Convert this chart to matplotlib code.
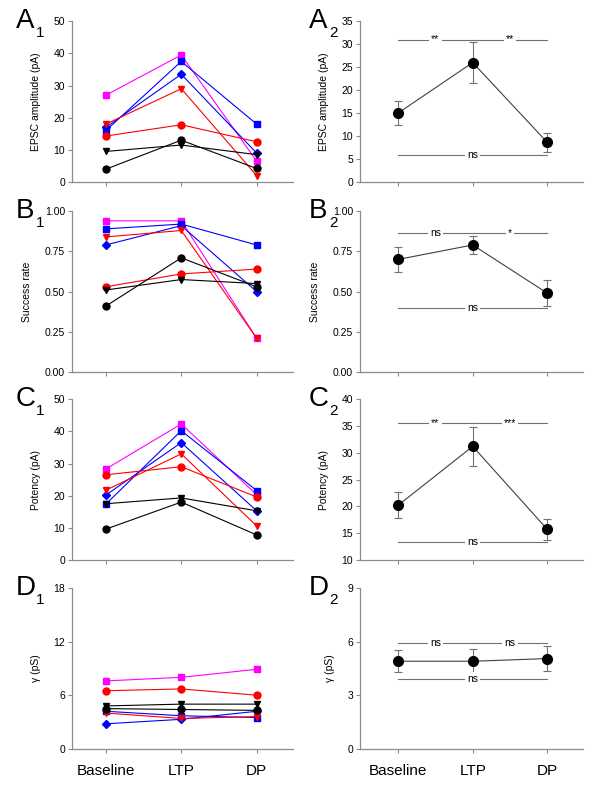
import matplotlib
matplotlib.use("Agg")
import matplotlib.pyplot as plt
from matplotlib.ticker import FormatStrFormatter

plt.rcParams['font.family'] = ['Liberation Sans', 'DejaVu Sans']

conditions = ["Baseline", "LTP", "DP"]
x = [0, 1, 2]

# individual cells: (color, marker)
cell_styles = [
    ("#FF00FF", "s"),
    ("#0000FF", "s"),
    ("#0000FF", "D"),
    ("#FF0000", "v"),
    ("#FF0000", "o"),
    ("#000000", "v"),
    ("#000000", "o"),
]

amp_cells = [
    [27.0, 39.5, 6.5],
    [16.0, 37.5, 18.0],
    [17.0, 33.5, 9.0],
    [18.0, 29.0, 2.0],
    [14.3, 17.8, 12.5],
    [9.5, 11.5, 8.5],
    [4.0, 13.0, 4.2],
]
succ_cells = [
    [0.94, 0.94, 0.21],
    [0.89, 0.92, 0.79],
    [0.79, 0.91, 0.50],
    [0.84, 0.88, 0.21],
    [0.53, 0.61, 0.64],
    [0.51, 0.575, 0.55],
    [0.41, 0.71, 0.53],
]
pot_cells = [
    [28.3, 42.3, 20.3],
    [17.4, 40.2, 21.6],
    [20.2, 36.5, 15.3],
    [21.7, 33.0, 10.6],
    [26.5, 29.0, 19.6],
    [17.5, 19.3, 15.3],
    [9.6, 18.0, 7.8],
]
gamma_cells = [
    [7.6, 8.0, 8.9],
    [4.2, 3.7, 3.5],
    [2.8, 3.3, 4.2],
    [4.0, 3.4, 3.6],
    [6.5, 6.7, 6.0],
    [4.8, 5.0, 5.0],
    [4.5, 4.4, 4.3],
]

# group means and SEM
amp_mean = [15.0, 26.0, 8.6]
amp_err = [2.7, 4.4, 2.05]
succ_mean = [0.70, 0.79, 0.49]
succ_err = [0.08, 0.058, 0.08]
pot_mean = [20.2, 31.2, 15.7]
pot_err = [2.4, 3.65, 1.95]
gamma_mean = [4.9, 4.9, 5.05]
gamma_err = [0.62, 0.7, 0.7]

# significance bars: (x start, x end, y, label)
amp_sig = [(0, 1, 31.0, "**"), (1, 2, 31.0, "**"), (0, 2, 5.8, "ns")]
succ_sig = [(0, 1, 0.865, "ns"), (1, 2, 0.865, "*"), (0, 2, 0.40, "ns")]
pot_sig = [(0, 1, 35.5, "**"), (1, 2, 35.5, "***"), (0, 2, 13.3, "ns")]
gamma_sig = [(0, 1, 5.9, "ns"), (1, 2, 5.9, "ns"), (0, 2, 3.9, "ns")]

rows = [
    ("A", "EPSC amplitude (pA)", amp_cells, (0, 50), range(0, 51, 10),
     amp_mean, amp_err, amp_sig, (0, 35), range(0, 36, 5), None),
    ("B", "Success rate", succ_cells, (0, 1), [0, 0.25, 0.5, 0.75, 1.0],
     succ_mean, succ_err, succ_sig, (0, 1), [0, 0.25, 0.5, 0.75, 1.0], "%.2f"),
    ("C", "Potency (pA)", pot_cells, (0, 50), range(0, 51, 10),
     pot_mean, pot_err, pot_sig, (10, 40), range(10, 41, 5), None),
    ("D", "\u03b3 (pS)", gamma_cells, (0, 18), [0, 6, 12, 18],
     gamma_mean, gamma_err, gamma_sig, (0, 9), [0, 3, 6, 9], None),
]

fig = plt.figure(figsize=(6, 8), dpi=100)
row_bottoms = [0.7725, 0.535, 0.30, 0.064]
row_h = 0.201
spine_c = "#8c8c8c"


def style_axis(ax, ylim, yticks, fmt, last):
    for s in ("top", "right"):
        ax.spines[s].set_visible(False)
    for s in ("left", "bottom"):
        ax.spines[s].set_color(spine_c)
        ax.spines[s].set_linewidth(0.9)
    ax.set_ylim(*ylim)
    ax.set_yticks(list(yticks))
    if fmt:
        ax.yaxis.set_major_formatter(FormatStrFormatter(fmt))
    ax.set_xticks(x)
    if last:
        ax.set_xticklabels(conditions, fontsize=11)
    else:
        ax.set_xticklabels([])
    ax.tick_params(axis="both", color=spine_c, length=3, width=0.8)
    ax.tick_params(axis="y", labelsize=7.5, pad=2)
    ax.tick_params(axis="x", pad=8)


for i, (letter, ylabel, cells, ylim1, yt1, mean, err, sig, ylim2, yt2, fmt) in enumerate(rows):
    last = i == len(rows) - 1
    b = row_bottoms[i]

    ax1 = fig.add_axes([0.12, b, 0.368, row_h])
    for (c, m), vals in zip(cell_styles, cells):
        ms = 4 if m == "D" else 5
        ax1.plot(x, vals, color=c, lw=0.8, marker=m, ms=ms, mec=c, mfc=c)
    ax1.set_xlim(-0.45, 2.48)
    style_axis(ax1, ylim1, yt1, fmt, last)
    ax1.set_ylabel(ylabel, fontsize=7.5, labelpad=9)

    ax2 = fig.add_axes([0.60, b, 0.372, row_h])
    ax2.errorbar(x, mean, yerr=err, color="#404040", lw=0.8, marker="o", ms=7,
                 mfc="black", mec="black", ecolor="#707070", elinewidth=0.8,
                 capsize=3, capthick=0.8)
    for x0, x1, y, lab in sig:
        ax2.plot([x0, x1], [y, y], color="#707070", lw=0.8)
        ax2.text((x0 + x1) / 2, y, lab, ha="center", va="center", fontsize=7.5,
                 bbox=dict(facecolor="white", edgecolor="none", pad=1.5))
    ax2.set_xlim(-0.51, 2.48)
    style_axis(ax2, ylim2, yt2, fmt, last)
    ax2.set_ylabel(ylabel, fontsize=7.5, labelpad=9)

    # panel letters with subscript
    top_px = 800 * (1 - (b + row_h))
    for lx, sub in ((16, "1"), (309, "2")):
        fig.text(lx / 600, 1 - (top_px - 13) / 800, letter, fontsize=20,
                 ha="left", va="top")
        fig.text((lx + 20) / 600, 1 - (top_px + 5) / 800, sub, fontsize=11,
                 ha="left", va="top")

fig.savefig("out.png", dpi=100)
